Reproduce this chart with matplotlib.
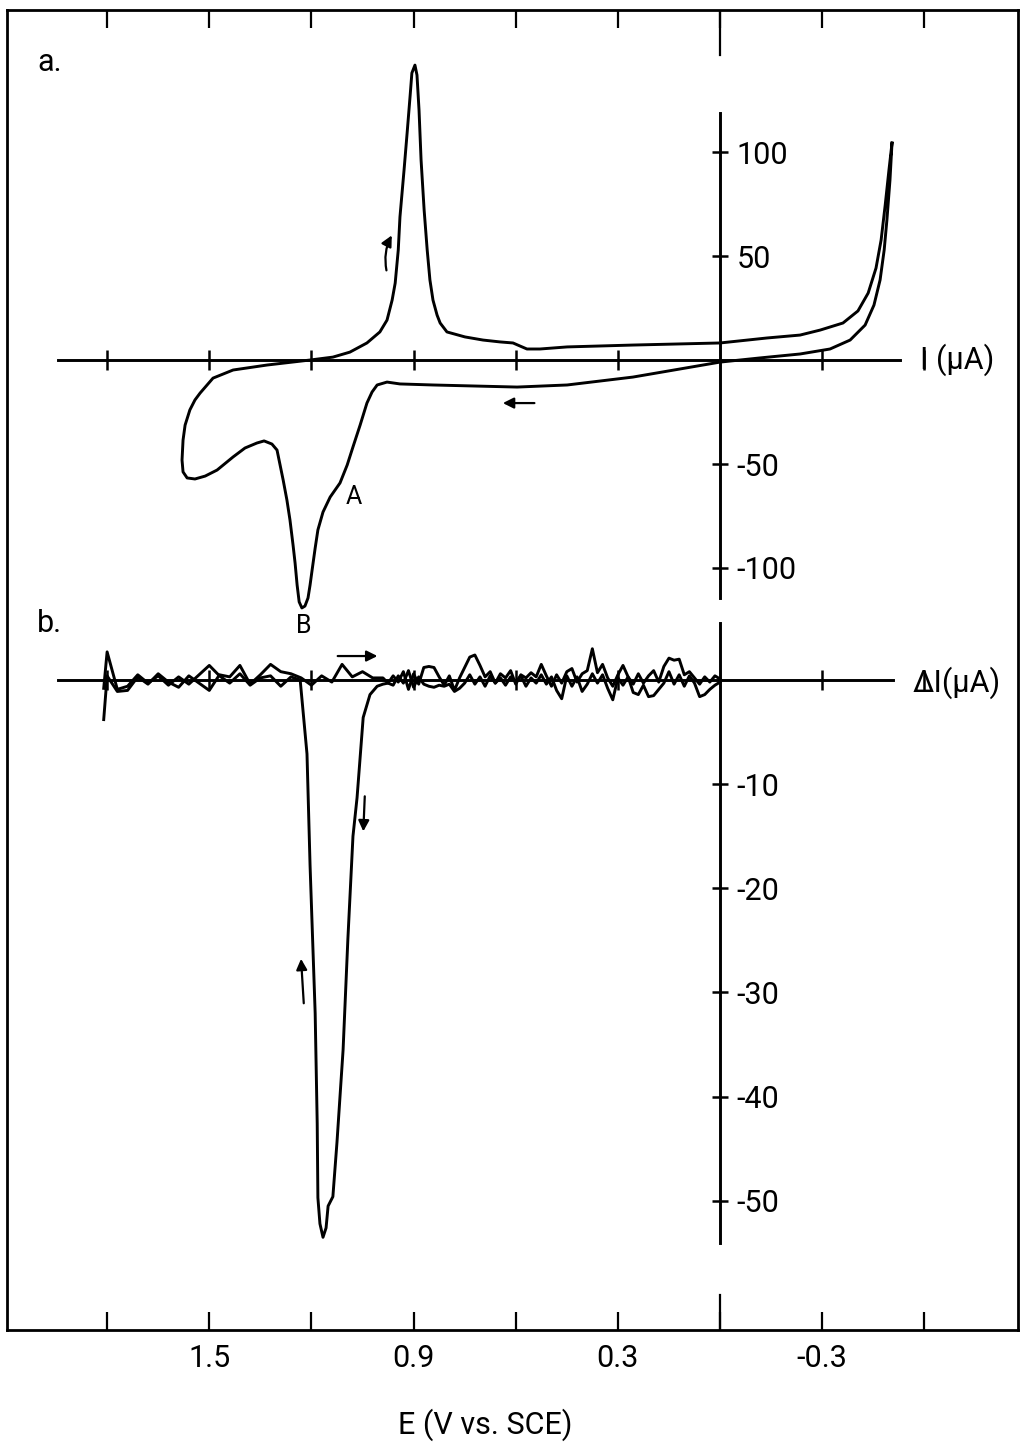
import numpy as np
import matplotlib
matplotlib.use("Agg")
import matplotlib.pyplot as plt

plt.rcParams['font.family'] = ['Roboto', 'DejaVu Sans']

# potential axis (V vs. SCE), drawn reversed
e_ticks = [1.8, 1.5, 1.2, 0.9, 0.6, 0.3, 0.0, -0.3, -0.6]
e_label_pos = [1.5, 0.9, 0.3, -0.3]
e_labels = ["1.5", "0.9", "0.3", "-0.3"]

# panel a: cyclic voltammogram (one closed loop, starts at the negative end)
cv_E = [-0.505, -0.499, -0.490, -0.482, -0.470, -0.452, -0.426, -0.382, -0.323, -0.235,
        -0.117, 0.000, 0.256, 0.449, 0.596, 0.843, 0.940, 0.978, 1.007, 1.022,
        1.037, 1.057, 1.078, 1.095, 1.116, 1.145, 1.166, 1.181, 1.189, 1.198,
        1.204, 1.210, 1.219, 1.228, 1.236, 1.242, 1.248, 1.254, 1.263, 1.272,
        1.283, 1.292, 1.301, 1.316, 1.339, 1.360, 1.395, 1.430, 1.477, 1.512,
        1.542, 1.565, 1.577, 1.580, 1.577, 1.571, 1.557, 1.542, 1.527, 1.489,
        1.430, 1.330, 1.204, 1.137, 1.087, 1.037, 0.999, 0.978, 0.963, 0.954,
        0.945, 0.940, 0.928, 0.919, 0.910, 0.905, 0.896, 0.890, 0.884, 0.878,
        0.869, 0.860, 0.852, 0.843, 0.831, 0.822, 0.802, 0.749, 0.696, 0.646,
        0.608, 0.587, 0.567, 0.529, 0.449, 0.256, 0.000, -0.138, -0.235, -0.294,
        -0.361, -0.405, -0.435, -0.458, -0.473, -0.485, -0.496, -0.505]
cv_I = [104.3, 86.5, 67.3, 52.9, 38.5, 26.4, 16.8, 9.6, 5.3, 2.9,
        1.0, -1.0, -8.2, -12.0, -13.0, -12.0, -11.5, -10.6, -12.0, -15.4,
        -20.7, -31.3, -41.8, -50.5, -59.1, -65.9, -73.1, -81.7, -90.4, -101.0,
        -108.2, -114.4, -118.3, -119.2, -116.3, -108.2, -97.6, -88.9, -76.9, -67.3,
        -57.7, -50.5, -43.3, -40.4, -38.9, -39.9, -42.3, -46.6, -52.9, -55.8,
        -57.2, -56.7, -53.8, -48.1, -38.5, -31.3, -24.0, -19.2, -15.9, -8.7,
        -4.8, -2.4, 0.0, 1.4, 3.8, 8.2, 13.5, 19.2, 28.8, 37.0,
        52.9, 68.8, 91.3, 109.1, 127.4, 138.0, 141.8, 137.0, 120.2, 96.2,
        72.1, 52.9, 38.5, 28.8, 21.6, 17.8, 13.5, 11.1, 9.6, 8.7,
        8.2, 6.7, 5.3, 5.3, 6.3, 7.2, 8.2, 10.6, 12.0, 14.4,
        17.8, 23.6, 32.2, 44.2, 57.7, 74.5, 91.3, 104.3]
i_ticks = [100, 50, -50, -100]
i_labels = ["100", "50", "-50", "-100"]

# panel b: the noisy part between 0 and 1 V is read more finely
fine_E = [0.000, 0.015, 0.030, 0.045, 0.060, 0.075, 0.090, 0.105, 0.120, 0.135,
          0.150, 0.165, 0.180, 0.195, 0.210, 0.225, 0.240, 0.255, 0.270, 0.285,
          0.300, 0.315, 0.330, 0.345, 0.360, 0.375, 0.390, 0.405, 0.420, 0.435,
          0.450, 0.465, 0.480, 0.495, 0.510, 0.525, 0.540, 0.555, 0.570, 0.585,
          0.600, 0.615, 0.630, 0.645, 0.660, 0.675, 0.690, 0.705, 0.720, 0.735,
          0.750, 0.765, 0.780, 0.795, 0.810, 0.825, 0.840, 0.855, 0.870, 0.885,
          0.900, 0.915, 0.930, 0.945, 0.960, 0.975, 0.990]

# anodic-going trace (left to right)
fwd_coarse_E = [1.81, 1.80, 1.77, 1.74, 1.71, 1.68, 1.65, 1.62, 1.59, 1.56, 1.53, 1.50,
                1.47, 1.44, 1.41, 1.38, 1.35, 1.32, 1.29, 1.26, 1.23, 1.20, 1.17, 1.14,
                1.11, 1.08, 1.05, 1.02]
fwd_coarse_dI = [-3.8, 0.4, -1.1, -1.0, 0.3, -0.4, 0.6, -0.2, -0.7, 0.4, -0.3, -1.0,
                 0.5, 0.3, 1.4, -0.4, 0.5, 1.5, 0.8, 0.6, 0.2, -0.5, 0.4, -0.2,
                 1.5, 0.3, 0.8, 0.2]
fwd_fine_dI = [0.1, 0.4, -0.2, 0.3, -0.4, 0.2, 0.8, 0.5, 2.0, 1.9,
               2.1, 1.3, -0.2, 0.9, 0.4, -0.3, 0.6, -0.4, 0.3, 1.4,
               0.5, -0.6, 0.2, 1.5, 0.7, 3.0, 0.9, 0.6, -0.2, 1.1,
               0.8, -0.3, 0.5, -0.6, 0.4, 1.5, 0.3, 0.7, 0.2, 0.5,
               -0.4, 0.9, 0.2, 0.6, -0.3, 0.8, 0.3, 1.4, 2.4, 2.2,
               1.2, 0.2, -1.0, 0.4, -0.5, 0.3, 1.2, 1.3, 1.2, -0.4,
               0.6, -0.9, 0.8, -0.2, 0.4, -0.3, 0.2]

# cathodic-going trace (right to left) with the stripping peak
rev_fine_dI = [-0.2, -0.5, -0.9, -1.4, -1.6, -0.3, 0.4, -0.6, 0.5, -0.4,
               0.8, -0.3, -0.9, -1.5, -1.6, -0.5, -1.4, -1.2, 0.3, -0.5,
               0.2, -1.9, -0.8, 0.5, -0.3, 0.6, -0.4, -1.1, 0.3, -0.6,
               0.4, -1.8, -1.0, 0.3, -0.4, 0.5, -0.3, 0.2, -0.6, 0.4,
               -0.2, 0.3, -0.5, 0.2, -0.3, 0.4, -0.6, 0.3, -0.4, 0.5,
               -0.3, -0.8, -1.1, -0.4, -0.6, -0.5, -0.7, -0.6, -0.4, 0.3,
               -0.7, 0.9, -0.3, 0.4, -0.5, -0.3, -0.4]
peak_E = [1.007, 1.028, 1.048, 1.066, 1.078, 1.093, 1.107, 1.125, 1.137, 1.151,
          1.157, 1.166, 1.175, 1.181, 1.183, 1.189, 1.204, 1.213, 1.233]
peak_dI = [-0.6, -1.4, -3.6, -11.3, -15.0, -24.9, -35.5, -44.4, -49.6, -50.5,
           -52.6, -53.5, -52.2, -49.7, -42.6, -32.0, -17.8, -7.1, 0.0]
rev_coarse_E = [1.26, 1.29, 1.32, 1.35, 1.38, 1.41, 1.44, 1.47, 1.50, 1.53,
                1.56, 1.59, 1.62, 1.65, 1.68, 1.71, 1.74, 1.77, 1.80, 1.81]
rev_coarse_dI = [0.3, -0.6, 0.4, 0.2, -0.5, 0.6, -0.3, 0.4, 1.4, 0.5,
                 -0.4, 0.3, -0.5, 0.4, -0.3, 0.5, -0.6, -0.9, 2.7, -0.8]
di_ticks = [-10, -20, -30, -40, -50]
di_labels = ["-10", "-20", "-30", "-40", "-50"]

fwd_E = fwd_coarse_E + fine_E[::-1]
fwd_dI = fwd_coarse_dI + fwd_fine_dI[::-1]
rev_E = fine_E + peak_E + rev_coarse_E
rev_dI = rev_fine_dI + peak_dI + rev_coarse_dI

W, H = 1023, 1454
LW = 2.1


def rect(x0, y0, x1, y1):
    return [x0 / W, 1 - y1 / H, (x1 - x0) / W, (y1 - y0) / H]


fig = plt.figure(figsize=(W / 100, H / 100), dpi=100)
xlim = (2.094, -0.875)

# outer frame with the potential scale
frame = fig.add_axes(rect(7, 10, 1018, 1330))
frame.set_xlim(*xlim)
frame.set_ylim(0, 1)
frame.set_yticks([])
frame.set_xticks(e_label_pos)
frame.set_xticklabels(e_labels)
frame.set_xticks([e for e in e_ticks if e not in e_label_pos], minor=True)
frame.tick_params(axis='x', which='both', direction='in', length=13, width=1.6,
                  top=True, bottom=True, labeltop=False, labelsize=22, pad=10)
for s in frame.spines.values():
    s.set_linewidth(2.0)
frame.axvline(0.0, ymin=1 - 45 / 1320, ymax=1, color='k', lw=1.6)
frame.axvline(0.0, ymin=0, ymax=35 / 1320, color='k', lw=1.6)
fig.text(485 / W, 1 - 1425 / H, "E (V vs. SCE)", ha='center', va='center', fontsize=22)


def cross_axes(ax, ybounds, xbounds, yt, ylab):
    ax.patch.set_alpha(0)
    ax.set_xlim(*xlim)
    for k in ('top', 'left'):
        ax.spines[k].set_visible(False)
    ax.spines['bottom'].set_position(('data', 0))
    ax.spines['bottom'].set_bounds(*xbounds)
    ax.spines['right'].set_position(('data', 0))
    ax.spines['right'].set_bounds(*ybounds)
    for k in ('bottom', 'right'):
        ax.spines[k].set_linewidth(LW)
    ax.yaxis.tick_right()
    ax.set_yticks(yt)
    ax.set_yticklabels(ylab)
    ax.set_xticks([e for e in e_ticks if e != 0.0])
    ax.set_xticklabels([])
    ax.tick_params(axis='y', direction='inout', length=12, width=1.8, labelsize=22, pad=6)
    ax.tick_params(axis='x', direction='inout', length=15, width=1.8)


# panel a
axa = fig.add_axes(rect(7, 10, 1018, 615))
axa.set_ylim(-122.6, 168.3)
cross_axes(axa, (-114.4, 118.8), (1.944, -0.529), i_ticks, i_labels)
axa.plot(cv_E, cv_I, color='k', lw=LW, solid_joinstyle='round')
axa.text(-0.695, 0, "I (µA)", ha='center', va='center', fontsize=22)
axa.text(1.97, 143, "a.", ha='center', va='center', fontsize=22)
axa.text(1.075, -66, "A", ha='center', va='center', fontsize=18)
axa.text(1.222, -128, "B", ha='center', va='center', fontsize=18)
arrow = dict(arrowstyle='-|>', color='k', lw=1.6, mutation_scale=16)
axa.annotate('', xy=(0.960, 61.1), xytext=(0.978, 41.8),
             arrowprops=dict(arrow, connectionstyle='arc3,rad=-0.2'))
axa.annotate('', xy=(0.646, -20.7), xytext=(0.537, -20.7), arrowprops=arrow)

# panel b
axb = fig.add_axes(rect(7, 615, 1018, 1330))
axb.set_ylim(-62.4, 6.24)
cross_axes(axb, (-54.0, 5.47), (1.944, -0.508), di_ticks, di_labels)
axb.plot(fwd_E, fwd_dI, color='k', lw=LW, solid_joinstyle='round')
axb.plot(rev_E, rev_dI, color='k', lw=LW, solid_joinstyle='round')
axb.text(-0.695, -0.3, "ΔI(µA)", ha='center', va='center', fontsize=22)
axb.text(1.968, 5.4, "b.", ha='center', va='center', fontsize=22)
axb.annotate('', xy=(0.998, 2.3), xytext=(1.131, 2.3), arrowprops=arrow)
axb.annotate('', xy=(1.048, -14.8), xytext=(1.043, -10.9), arrowprops=arrow)
axb.annotate('', xy=(1.231, -26.5), xytext=(1.222, -31.3), arrowprops=arrow)

fig.savefig("out.png", dpi=100)
